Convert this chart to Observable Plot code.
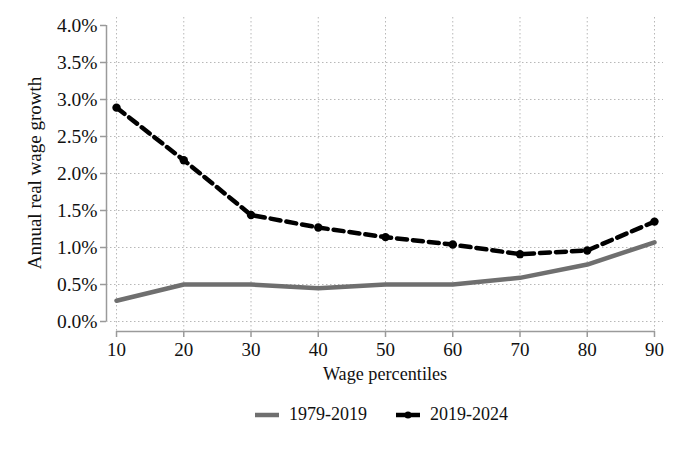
<!DOCTYPE html>
<html>
<head>
<meta charset="utf-8">
<script src="https://cdn.jsdelivr.net/npm/d3@7"></script>
<script src="https://cdn.jsdelivr.net/npm/@observablehq/plot@0.6"></script>
<style>
  body { margin: 0; background: #fff; font-family: "Liberation Serif", "Times New Roman", serif; }
  #chart svg { display: block; }
  .legend { position: relative; width: 680px; height: 40px; font-size: 18px; color: #111; }
  .legend .item { position: absolute; top: 12px; display: flex; align-items: center; }
  .legend svg { margin-right: 10px; }
</style>
</head>
<body>
<div id="chart"></div>
<div class="legend">
  <div class="item" style="left:255px"><svg width="24" height="10"><line x1="0" x2="24" y1="5" y2="5" stroke="#6f6f6f" stroke-width="4.5"/></svg><span>1979-2019</span></div>
  <div class="item" style="left:396px"><svg width="24" height="10"><line x1="0" x2="24" y1="5" y2="5" stroke="#000" stroke-width="4.5"/><circle cx="12" cy="5" r="3.5" fill="#000"/></svg><span>2019-2024</span></div>
</div>
<script>
const percentiles = [10, 20, 30, 40, 50, 60, 70, 80, 90];
const growth1979_2019 = [0.28, 0.50, 0.50, 0.45, 0.50, 0.50, 0.59, 0.77, 1.07];
const growth2019_2024 = [2.89, 2.18, 1.44, 1.27, 1.14, 1.04, 0.91, 0.96, 1.35];
const yTicks = [0, 0.5, 1, 1.5, 2, 2.5, 3, 3.5, 4];
const yGridTicks = [0, 0.5, 1, 1.5, 2, 2.5, 3, 3.5];
const xTicks = percentiles;

const rowsA = percentiles.map((p, i) => ({p, v: growth1979_2019[i]}));
const rowsB = percentiles.map((p, i) => ({p, v: growth2019_2024[i]}));

const axisColor = "#9a9a9a";
const gridColor = "#b8b8b8";
const xMin = 8.51, xMax = 91.34, yMin = -0.135, yMax = 4.108;

const chart = Plot.plot({
  width: 680,
  height: 392,
  marginLeft: 106,
  marginRight: 17,
  marginTop: 17,
  marginBottom: 61,
  style: { fontFamily: "Liberation Serif, Times New Roman, serif", fontSize: "18px", color: "#111", background: "#fff" },
  x: { domain: [xMin, xMax], axis: null },
  y: { domain: [yMin, yMax], axis: null },
  marks: [
    Plot.gridY(yGridTicks, { stroke: gridColor, strokeOpacity: 1, strokeDasharray: "1.5,2.5", strokeWidth: 1 }),
    Plot.gridX(xTicks, { stroke: gridColor, strokeOpacity: 1, strokeDasharray: "1.5,2.5", strokeWidth: 1 }),
    Plot.axisY(yTicks, { anchor: "left", tickSize: 6, tickPadding: 3, stroke: axisColor, strokeWidth: 1.5, tickFormat: d => d.toFixed(1) + "%", fontSize: 19.5, fill: "#111", label: null }),
    Plot.axisX(xTicks, { anchor: "bottom", tickSize: 6, tickPadding: 5, stroke: axisColor, strokeWidth: 1.5, tickFormat: d => String(d), fontSize: 19, fill: "#111", label: null }),
    Plot.ruleX([xMin], { y1: 0, y2: 4, stroke: axisColor, strokeWidth: 1.5 }),
    Plot.ruleY([yMin], { x1: 10, x2: 90, stroke: axisColor, strokeWidth: 1.5 }),
    Plot.line(rowsA, { x: "p", y: "v", stroke: "#6f6f6f", strokeWidth: 4.5 }),
    Plot.line(rowsB, { x: "p", y: "v", stroke: "#000", strokeWidth: 4.5, strokeDasharray: "10,6" }),
    Plot.dot(rowsB, { x: "p", y: "v", r: 4.2, fill: "#000" }),
    Plot.text(["Annual real wage growth"], { frameAnchor: "left", rotate: -90, dx: -72, dy: -1.5, textAnchor: "middle", lineAnchor: "middle", fontSize: 19, fill: "#111" }),
    Plot.text(["Wage percentiles"], { frameAnchor: "bottom", dy: 43, textAnchor: "middle", lineAnchor: "middle", fontSize: 18.2, fill: "#111" })
  ]
});
document.getElementById("chart").appendChild(chart);
</script>
</body>
</html>
